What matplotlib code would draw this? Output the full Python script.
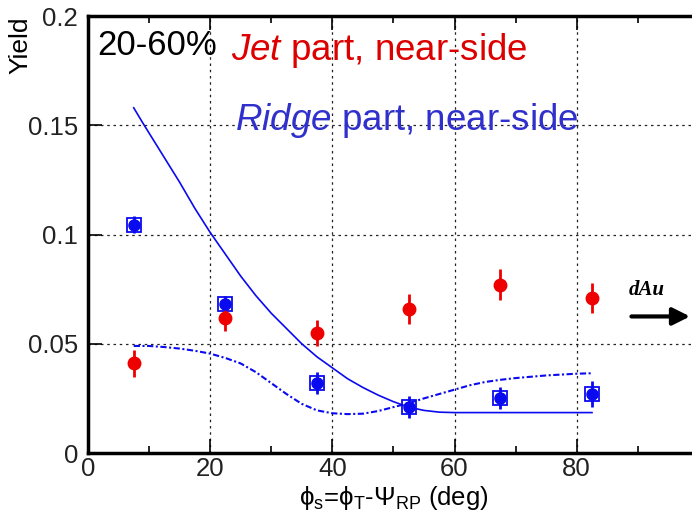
import numpy as np
import matplotlib
matplotlib.use("Agg")
import matplotlib.pyplot as plt
from matplotlib.ticker import MultipleLocator

plt.rcParams['font.family'] = ['Liberation Sans', 'DejaVu Sans']
plt.rcParams['mathtext.fontset'] = 'custom'
plt.rcParams['mathtext.rm'] = 'Liberation Sans'
plt.rcParams['mathtext.it'] = 'Liberation Sans:italic'

# --- data ---
phi = [7.5, 22.5, 37.5, 52.5, 67.5, 82.5]

jet_y = [0.041, 0.062, 0.055, 0.066, 0.077, 0.071]
jet_err = [0.006, 0.006, 0.006, 0.007, 0.007, 0.007]

ridge_y = [0.1045, 0.068, 0.032, 0.021, 0.025, 0.027]
ridge_err = [0.004, 0.004, 0.005, 0.005, 0.005, 0.006]

# model curves
solid_x = [7.5, 9, 11, 13, 15, 17.5, 20, 22.5, 25, 27.5, 30, 32.5, 35, 37.5, 40,
           42.5, 45, 47.5, 50, 52.5, 55, 57.5, 60, 82.5]
solid_y = [0.158, 0.151, 0.142, 0.133, 0.124, 0.112, 0.101, 0.091, 0.081, 0.072,
           0.064, 0.057, 0.050, 0.044, 0.039, 0.034, 0.030, 0.0265, 0.0235, 0.021,
           0.0195, 0.0187, 0.0185, 0.0185]

dash_x = [7.5, 10, 12.5, 15, 17.5, 20, 22.5, 25, 27.5, 30, 32.5, 35, 37.5, 40,
          42.5, 45, 47.5, 50, 52.5, 55, 57.5, 60, 62.5, 65, 67.5, 70, 75, 80, 82.5]
dash_y = [0.049, 0.049, 0.0485, 0.0478, 0.0468, 0.0455, 0.0435, 0.041, 0.037,
          0.032, 0.027, 0.0225, 0.0195, 0.0182, 0.0178, 0.018, 0.0192, 0.021,
          0.0228, 0.025, 0.027, 0.029, 0.031, 0.0325, 0.0335, 0.0343, 0.0355,
          0.0363, 0.0365]

fig = plt.figure(figsize=(6.92, 5.27), dpi=100)
ax = fig.add_axes([0.127, 0.1404, 0.883, 0.8292])

blue = '#0a0af0'
red = '#ee0000'

ax.plot(solid_x, solid_y, color=blue, lw=1.2)
ax.plot(dash_x, dash_y, color=blue, lw=1.5, linestyle=(0, (3, 1.2, 1, 1.2)))

# systematic boxes
ax.plot(phi, ridge_y, linestyle='none', marker='s', ms=10, mfc='none',
        mec=blue, mew=1.3)
ax.errorbar(phi, ridge_y, yerr=ridge_err, fmt='o', color=blue, ms=8, elinewidth=2,
            capsize=0)
ax.errorbar(phi, jet_y, yerr=jet_err, fmt='o', color=red, ms=9, elinewidth=2,
            capsize=0)

ax.set_xlim(0, 100)
ax.set_ylim(0, 0.2)
ax.set_xticks([0, 20, 40, 60, 80, 100])
ax.set_xticklabels(['0', '20', '40', '60', '80', ''])
ax.xaxis.set_minor_locator(MultipleLocator(10))
ax.set_yticks([0, 0.05, 0.1, 0.15, 0.2])
ax.set_yticklabels(['0', '0.05', '0.1', '0.15', '0.2'])

ax.grid(True, which='major', color='#222222', linestyle=(0, (2, 3)), lw=0.9)
ax.tick_params(which='major', direction='in', length=10, width=1.2, labelsize=18.5,
               top=True, pad=3, labelcolor='#222222')
ax.tick_params(axis='y', pad=7)
ax.tick_params(which='minor', direction='in', length=5, width=1.2, top=True)
for s in ax.spines.values():
    s.set_linewidth(2.5)

fig.text(20 / 692, 1 - 45 / 527, 'Yield', fontsize=19, rotation=90,
         ha='center', va='center')
ax.set_xlabel('ϕ$_\\mathrm{s}$=ϕ$_\\mathrm{T}$-Ψ$_\\mathrm{RP}$ (deg)',
              fontsize=18.5, labelpad=2)

ax.text(1.5, 0.194, '20-60%', fontsize=25, va='top', ha='left', color='black')
ax.text(23.5, 0.193, r'$\mathit{Jet}$ part, near-side', fontsize=26.5, va='top',
        ha='left', color='#dd0000')
ax.text(24, 0.161, r'$\mathit{Ridge}$ part, near-side', fontsize=26.5, va='top',
        ha='left', color='#3030cc')

ax.text(88.5, 0.0745, 'dAu', fontsize=15, fontstyle='italic', fontweight='bold',
        family='Liberation Serif', ha='left', va='center')
ax.annotate('', xy=(99, 0.0625), xytext=(88.5, 0.0625),
            arrowprops=dict(arrowstyle='-|>', color='black', lw=3,
                            mutation_scale=26))

fig.savefig('out.png', dpi=100)
